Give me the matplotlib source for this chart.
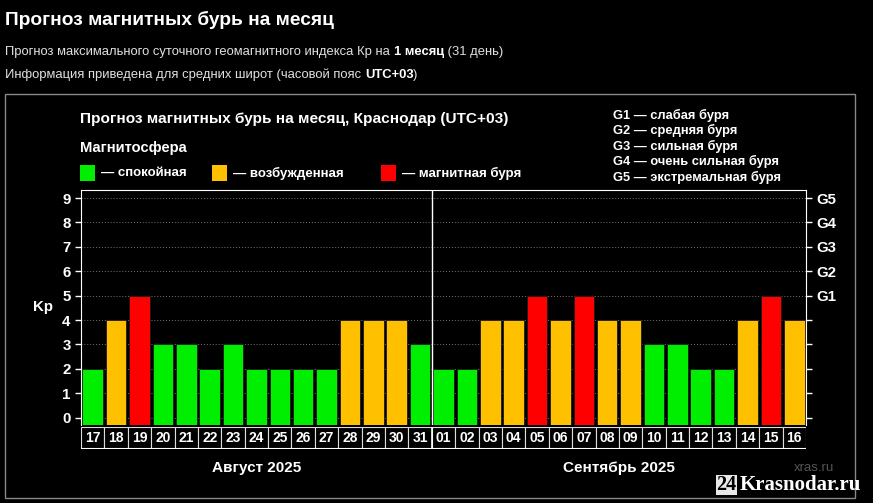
import matplotlib.pyplot as plt
from matplotlib.patches import Rectangle

# данные прогноза Kp
days = ["17", "18", "19", "20", "21", "22", "23", "24", "25", "26", "27", "28", "29", "30", "31",
        "01", "02", "03", "04", "05", "06", "07", "08", "09", "10", "11", "12", "13", "14", "15", "16"]
kp = [2, 4, 5, 3, 3, 2, 3, 2, 2, 2, 2, 4, 4, 4, 3,
      2, 2, 4, 4, 5, 4, 5, 4, 4, 3, 3, 2, 2, 4, 5, 4]
months = ["Август 2025", "Сентябрь 2025"]
month_days = [15, 16]
g_levels = ["G1", "G2", "G3", "G4", "G5"]
g_text = ["G1 — слабая буря", "G2 — средняя буря", "G3 — сильная буря",
          "G4 — очень сильная буря", "G5 — экстремальная буря"]

GREEN = "#00ee00"
ORANGE = "#ffc000"
RED = "#ff0000"


def bar_color(v):
    if v >= 5:
        return RED
    if v == 4:
        return ORANGE
    return GREEN


plt.rcParams["font.family"] = ["Liberation Sans", "DejaVu Sans"]

W, H = 873, 503
fig = plt.figure(figsize=(W / 100, H / 100), dpi=100, facecolor="black")


def fx(px):
    return px / W


def fy(py):
    return 1 - py / H


# фон для текстов шапки (невидимые оси на всю фигуру)
bg = fig.add_axes([0, 0, 1, 1])
bg.set_xlim(0, W)
bg.set_ylim(H, 0)
bg.axis("off")

bg.text(5, 20, "Прогноз магнитных бурь на месяц", color="white",
        fontsize=13.8, fontweight="bold", va="center")

sub = 9.4
t1 = bg.text(5, 52, "Прогноз максимального суточного геомагнитного индекса Кр на ",
             color="#e0e0e0", fontsize=sub, va="center")
t2 = bg.annotate("1 месяц", xy=(1, 0), xycoords=t1, va="bottom", ha="left",
                 color="white", fontsize=sub, fontweight="bold")
bg.annotate(" (31 день)", xy=(1, 0), xycoords=t2, va="bottom", ha="left",
            color="#e0e0e0", fontsize=sub)
t3 = bg.text(5, 75, "Информация приведена для средних широт (часовой пояс ",
             color="#e0e0e0", fontsize=sub, va="center")
t4 = bg.annotate("UTC+03", xy=(1, 0), xycoords=t3, va="bottom", ha="left",
                 color="white", fontsize=sub, fontweight="bold")
bg.annotate(")", xy=(1, 0), xycoords=t4, va="bottom", ha="left",
            color="#e0e0e0", fontsize=sub)

# рамка блока графика
bg.add_patch(Rectangle((5, 94), 850, 404, fill=False, edgecolor="#888888",
                       linewidth=1))

# заголовок и легенда
bg.text(80, 119, "Прогноз магнитных бурь на месяц, Краснодар (UTC+03)",
        color="white", fontsize=11.1, fontweight="bold", va="center")
bg.text(80, 148, "Магнитосфера", color="white", fontsize=10.6,
        fontweight="bold", va="center")
legend_items = [(80, GREEN, "— спокойная"), (212, ORANGE, "— возбужденная"),
                (381, RED, "— магнитная буря")]
for x0, c, lab in legend_items:
    bg.add_patch(Rectangle((x0, 165), 15, 16, facecolor=c, edgecolor="none"))
    bg.text(x0 + 21, 173, lab, color="white", fontsize=9.5,
            fontweight="bold", va="center")
for i, s in enumerate(g_text):
    bg.text(613, 115 + i * 15.5, s, color="white", fontsize=9.3,
            fontweight="bold", va="center")

# подписи источника
bg.text(814, 468, "xras.ru", color="#555555", fontsize=9.5, ha="center",
        va="center")
bg.text(716, 485, "24", color="black", fontsize=14.5, fontweight="bold",
        family="Liberation Serif", va="center",
        bbox=dict(facecolor="#e8e8e8", edgecolor="none", pad=0.3))
bg.text(740, 485, "Krasnodar.ru", color="white", fontsize=15,
        fontweight="bold", family="Liberation Serif", va="center")

# основной график
ax = fig.add_axes([fx(81), fy(425), fx(725), (425 - 190) / H])
ax.set_facecolor("black")
x = list(range(len(kp)))
base = -0.3
ax.bar(x, [v - base for v in kp], bottom=base, width=0.88,
       color=[bar_color(v) for v in kp], edgecolor="#1a1a1a", linewidth=0.6,
       zorder=2)
ax.set_xlim(-0.5, len(kp) - 0.5)
ax.set_ylim(base, 9.33)
ax.set_yticks(range(10))
ax.set_xticks([])
ax.grid(axis="y", color="#777777", linestyle=(0, (1, 2)), linewidth=0.7, zorder=0)
ax.tick_params(axis="y", colors="white", labelsize=10.8, length=4, width=1)
for lbl in ax.get_yticklabels():
    lbl.set_fontweight("bold")
for side in ["left", "top", "right"]:
    ax.spines[side].set_color("white")
ax.spines["bottom"].set_visible(False)
ax.axvline(month_days[0] - 0.5, color="white", linewidth=1, zorder=3)
ax.set_ylabel("Kp", color="white", fontsize=10.8, fontweight="bold",
              rotation=0, labelpad=14, va="center")

axr = ax.twinx()
axr.set_ylim(ax.get_ylim())
axr.set_yticks(range(10))
axr.set_yticklabels([""] * 5 + g_levels)
axr.tick_params(axis="y", colors="white", labelsize=10.8, length=4, width=1)
for lbl in axr.get_yticklabels():
    lbl.set_fontweight("bold")
for side in ["left", "top", "right", "bottom"]:
    axr.spines[side].set_visible(False)

# подписи дней
axd = fig.add_axes([fx(81), fy(449), fx(725), 22 / H])
axd.set_facecolor("black")
axd.bar(x, 1, width=1, bottom=0, color="black", edgecolor="#dddddd", linewidth=0.8)
for i, d in enumerate(days):
    axd.text(i, 0.5, d, color="white", fontsize=10, fontweight="bold",
             ha="center", va="center")
axd.set_xlim(-0.5, len(kp) - 0.5)
axd.set_ylim(0, 1)
axd.axis("off")
axd.axvline(month_days[0] - 0.5, color="white", linewidth=1.2)
axd.axhline(0, color="white", linewidth=1.5)

# месяцы
start = 0
for m, n in zip(months, month_days):
    center = start + (n - 1) / 2
    axd.annotate(m, xy=(center, 0), xycoords="data", xytext=(0, -14),
                 textcoords="offset points", ha="center", va="center",
                 color="white", fontsize=11, fontweight="bold",
                 annotation_clip=False)
    start += n

fig.savefig("out.png", dpi=100, facecolor="black")
